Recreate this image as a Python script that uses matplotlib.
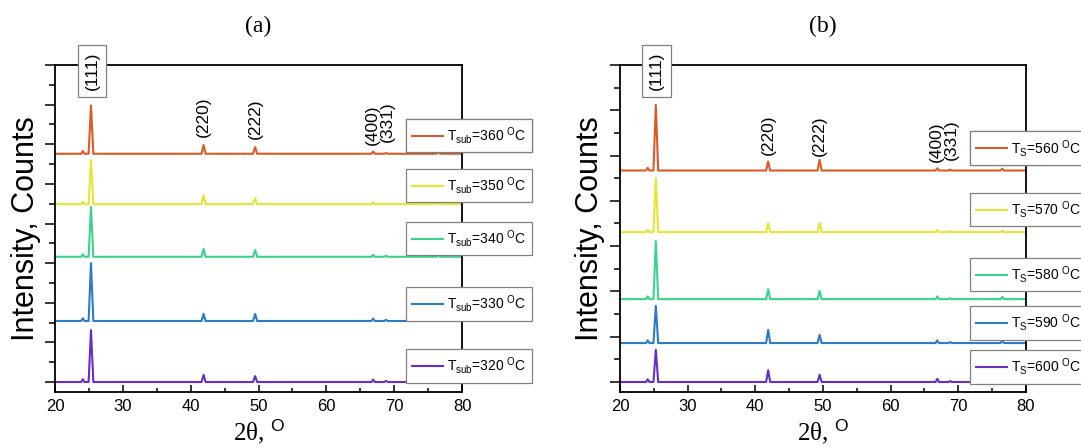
import matplotlib
matplotlib.use("Agg")
import matplotlib.pyplot as plt
import numpy as np

plt.rcParams['font.family'] = ['Liberation Sans', 'DejaVu Sans']
plt.rcParams['mathtext.fontset'] = 'custom'
plt.rcParams['mathtext.default'] = 'regular'
plt.rcParams['mathtext.sf'] = 'Liberation Sans'

# peak positions (2 theta, deg): shoulder, (111), (220), (222), (400), (331), extra
peak_pos = [24.1, 25.3, 41.9, 49.5, 66.9, 68.8, 76.5]

# panel (a): substrate temperature series, bottom to top
temps_a = [320, 330, 340, 350, 360]
offsets_a = [0.0, 1.54, 3.16, 4.49, 5.76]
h_320 = [0.07, 1.31, 0.18, 0.15, 0.06, 0.03, 0.05]
h_330 = [0.07, 1.46, 0.18, 0.18, 0.06, 0.03, 0.04]
h_340 = [0.06, 1.26, 0.20, 0.17, 0.05, 0.03, 0.04]
h_350 = [0.06, 1.11, 0.22, 0.15, 0.05, 0.02, 0.04]
h_360 = [0.07, 1.22, 0.22, 0.17, 0.06, 0.02, 0.05]
heights_a = [h_320, h_330, h_340, h_350, h_360]

# panel (b): T_S series, bottom to top
temps_b = [600, 590, 580, 570, 560]
offsets_b = [0.0, 0.86, 1.83, 3.31, 4.67]
h_600 = [0.06, 0.71, 0.26, 0.16, 0.07, 0.02, 0.07]
h_590 = [0.06, 0.82, 0.29, 0.18, 0.06, 0.02, 0.06]
h_580 = [0.06, 1.28, 0.22, 0.18, 0.06, 0.02, 0.05]
h_570 = [0.05, 1.19, 0.20, 0.20, 0.05, 0.02, 0.04]
h_560 = [0.06, 1.45, 0.20, 0.24, 0.05, 0.02, 0.04]
heights_b = [h_600, h_590, h_580, h_570, h_560]

hkl_labels = ['(111)', '(220)', '(222)', '(400)', '(331)']
hkl_x = [25.45, 41.9, 49.5, 66.8, 69.0]

colors = ['#6a2dc4', '#2a7cc6', '#3ad38c', '#e4e632', '#dc5a26']
half_w = [0.25, 0.35, 0.3, 0.3, 0.25, 0.25, 0.25]


def pattern(base, heights):
    xs, ys = [20.0], [base]
    for p, h, w in zip(peak_pos, heights, half_w):
        xs += [p - w, p, p + w]
        ys += [base, base + h, base]
    xs.append(80.0)
    ys.append(base)
    return xs, ys


fig = plt.figure(figsize=(10.81, 4.48), dpi=100)
ax_a = fig.add_axes([0.0509, 0.125, 0.3765, 0.7299])
ax_b = fig.add_axes([0.5735, 0.125, 0.3756, 0.7299])

panels = [
    (ax_a, temps_a, offsets_a, heights_a, 'sub', 8, -0.252,
     [0.131, 0.321, 0.520, 0.682, 0.835], [0.982, 0.841, 0.835, 0.817, 0.826], '(a)', -0.071),
    (ax_b, temps_b, offsets_b, heights_b, 'S', 7, -0.221,
     [0.128, 0.263, 0.410, 0.609, 0.797], [0.982, 0.786, 0.783, 0.765, 0.771], '(b)', -0.074),
]

for ax, temps, offs, heights, sub, ytop, ybot, leg_tops, lab_y, title, ylab_x in panels:
    lines = []
    for t, off, hs, c in zip(temps, offs, heights, colors):
        xs, ys = pattern(off, hs)
        ln, = ax.plot(xs, ys, color=c, lw=1.5)
        lines.append(ln)

    ax.set_xlim(20, 80)
    ax.set_ylim(ybot, ytop)
    ax.set_xticks(np.arange(20, 81, 10))
    ax.set_xticks(np.arange(25, 80, 10), minor=True)
    ax.set_yticks(np.arange(0, ytop + 1))
    ax.set_yticks(np.arange(0.5, ytop, 1), minor=True)
    ax.set_yticklabels([])
    ax.tick_params(axis='x', which='major', direction='in', length=5, width=1.1,
                   labelsize=12, pad=5)
    ax.tick_params(axis='x', which='minor', direction='in', length=3, width=1.1)
    ax.tick_params(axis='y', which='major', direction='out', length=7, width=1.1)
    ax.tick_params(axis='y', which='minor', direction='out', length=4, width=1.1)
    for sp in ax.spines.values():
        sp.set_linewidth(1.3)

    ax.set_ylabel('Intensity, Counts', fontsize=22)
    ax.yaxis.set_label_coords(ylab_x, 0.5)
    ax.yaxis.label.set_va('center')
    ax.set_xlabel('2θ, $^{\\mathsf{O}}$', fontsize=18, family='Liberation Serif')
    ax.xaxis.set_label_coords(0.5, -0.122)
    ax.xaxis.label.set_va('center')

    ax.text(0.5, 1.119, title, transform=ax.transAxes, ha='center', va='center',
            fontsize=17, family='Liberation Serif')

    for i, (lab, lx, ly) in enumerate(zip(hkl_labels, hkl_x, lab_y)):
        kw = {}
        if i == 0:
            kw['bbox'] = dict(boxstyle='square,pad=0.4', fc='white', ec='#808080', lw=0.9)
        ax.text(lx, ly, lab, transform=ax.get_xaxis_transform(), rotation=90,
                ha='center', va='center', fontsize=12.5, clip_on=False, zorder=5, **kw)

    for t, ln, top in zip(temps, lines, leg_tops):
        label = 'T$_{%s}$=%d $^{O}$C' % (sub, t)
        leg = ax.legend([ln], [label], loc='upper left', bbox_to_anchor=(0.862, top),
                        borderaxespad=0, fontsize=10, handlelength=2.2,
                        handletextpad=0.3, borderpad=0.45, fancybox=False,
                        framealpha=1, edgecolor='#808080')
        leg.get_frame().set_linewidth(0.9)
        leg.set_zorder(10)
        ax.add_artist(leg)

fig.savefig('out.png', dpi=100)
